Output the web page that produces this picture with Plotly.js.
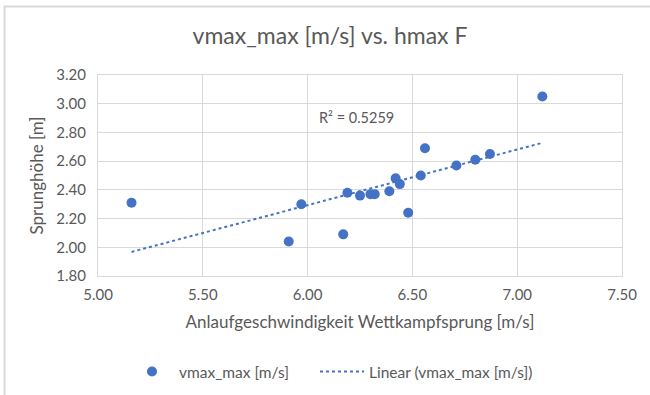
<!DOCTYPE html>
<html>
<head>
<meta charset="utf-8">
<script src="https://cdn.plot.ly/plotly-3.0.1.min.js"></script>
<style>
  html, body { margin: 0; padding: 0; background: #fff; }
  #chart { width: 650px; height: 395px; }
</style>
</head>
<body>
<div id="chart"></div>
<script>
// Run-up speed of the competition jump vs. jump height
const speed = [5.16, 5.91, 5.97, 6.17, 6.19, 6.25, 6.30, 6.32, 6.39, 6.42, 6.44, 6.48, 6.54, 6.56, 6.71, 6.80, 6.87, 7.12];
const height = [2.31, 2.04, 2.30, 2.09, 2.38, 2.36, 2.37, 2.37, 2.39, 2.48, 2.44, 2.24, 2.50, 2.69, 2.57, 2.61, 2.65, 3.05];
const xTicks = [5.00, 5.50, 6.00, 6.50, 7.00, 7.50];
const yTicks = [1.80, 2.00, 2.20, 2.40, 2.60, 2.80, 3.00, 3.20];
const rSquaredLabel = 'R² = 0.5259';

// Least-squares linear trend across the data range
function linearFit(xs, ys) {
  const n = xs.length;
  const mx = xs.reduce((a, b) => a + b, 0) / n;
  const my = ys.reduce((a, b) => a + b, 0) / n;
  let sxy = 0, sxx = 0;
  for (let i = 0; i < n; i++) {
    sxy += (xs[i] - mx) * (ys[i] - my);
    sxx += (xs[i] - mx) * (xs[i] - mx);
  }
  const slope = sxy / sxx;
  return { slope, intercept: my - slope * mx };
}
const fit = linearFit(speed, height);
const xMin = Math.min(...speed), xMax = Math.max(...speed);
const trendX = [xMin, xMax];
const trendY = trendX.map(x => fit.intercept + fit.slope * x);

const blue = '#4472C4';
const textGray = '#595959';
const gridGray = '#d9d9d9';
const font = 'Lato, "Open Sans", sans-serif';

const traces = [
  {
    x: speed, y: height, type: 'scatter', mode: 'markers',
    name: 'vmax_max [m/s]', legend: 'legend',
    marker: { color: blue, size: 10 }
  },
  {
    x: trendX, y: trendY, type: 'scatter', mode: 'lines',
    name: 'Linear (vmax_max [m/s])', legend: 'legend2',
    line: { color: blue, width: 2, dash: 'dot' }
  }
];

// fixed margins define the plot box; frame and legends are placed in paper units from them
const m = { l: 98, r: 28, t: 75, b: 119, autoexpand: false };
const pw = 650 - m.l - m.r, ph = 395 - m.t - m.b;
const px = v => (v - m.l) / pw;
const py = v => (395 - m.b - v) / ph;

const legendStyle = {
  orientation: 'h', yanchor: 'middle', xanchor: 'left', y: py(372),
  itemwidth: 44,
  font: { size: 15.5, color: textGray }, bgcolor: 'rgba(0,0,0,0)'
};

const layout = {
  width: 650, height: 395,
  margin: m,
  paper_bgcolor: '#fff', plot_bgcolor: '#fff',
  font: { family: font, color: textGray, size: 15 },
  title: {
    text: 'vmax_max [m/s] vs. hmax F',
    font: { family: font, size: 23, color: textGray },
    x: px(330), xref: 'paper', xanchor: 'center',
    y: 1 - 36 / 395, yanchor: 'middle'
  },
  xaxis: {
    range: [5, 7.5], tickvals: xTicks, ticktext: xTicks.map(v => v.toFixed(2)),
    automargin: false,
    showgrid: true, gridcolor: gridGray, gridwidth: 1,
    showline: true, linecolor: gridGray, mirror: true,
    zeroline: false, ticks: '', ticklabelstandoff: 5,
    tickfont: { size: 15, color: textGray },
    title: { text: 'Anlaufgeschwindigkeit Wettkampfsprung [m/s]', font: { size: 17, color: textGray }, standoff: 14 }
  },
  yaxis: {
    range: [1.8, 3.2], tickvals: yTicks, ticktext: yTicks.map(v => v.toFixed(2)),
    automargin: false,
    showgrid: true, gridcolor: gridGray, gridwidth: 1,
    showline: true, linecolor: gridGray, mirror: true,
    zeroline: false, ticks: '', ticklabelstandoff: 8,
    tickfont: { size: 15, color: textGray },
    title: { text: 'Sprunghöhe [m]', font: { size: 17, color: textGray }, standoff: 8 }
  },
  showlegend: true,
  legend: Object.assign({}, legendStyle, { x: px(125) }),
  legend2: Object.assign({}, legendStyle, { x: px(315) }),
  annotations: [{
    x: 6.045, y: 2.907, xref: 'x', yref: 'y', xanchor: 'left', yanchor: 'middle',
    text: rSquaredLabel, showarrow: false, font: { size: 14.5, color: textGray }
  }],
  shapes: [{
    type: 'rect', xref: 'paper', yref: 'paper', layer: 'below',
    x0: px(4.5), x1: px(700), y0: py(450), y1: py(6.5),
    line: { color: gridGray, width: 2 }, fillcolor: 'rgba(0,0,0,0)'
  }]
};

Plotly.newPlot('chart', traces, layout, { displayModeBar: false, staticPlot: true });
</script>
</body>
</html>
